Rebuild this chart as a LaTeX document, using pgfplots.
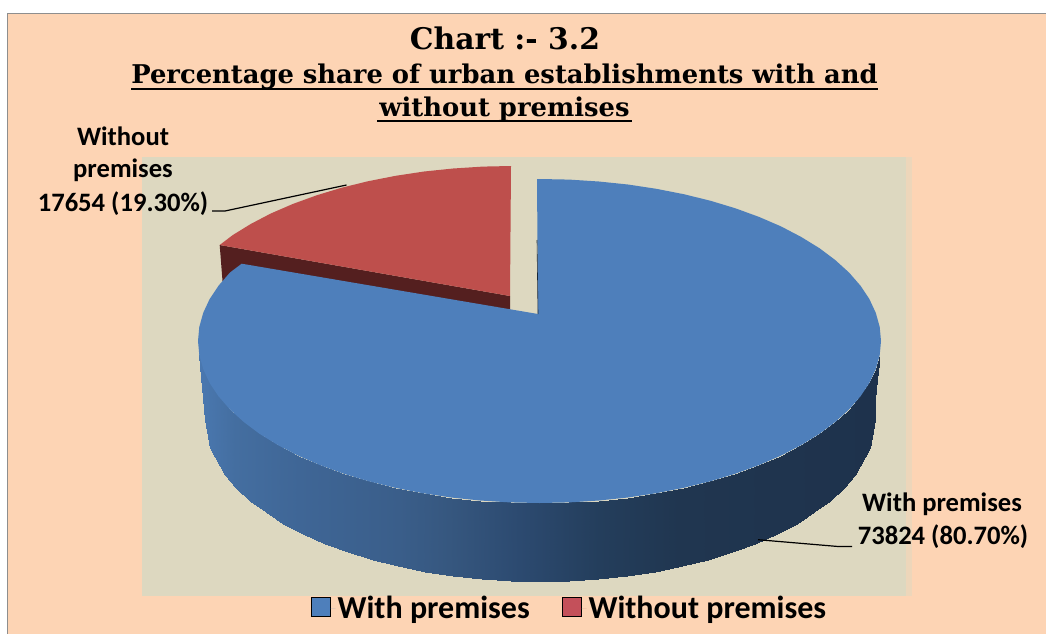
\documentclass[border=0pt]{standalone}
\usepackage{fontspec}
\setmainfont{Carlito}
\newfontfamily\titlefont{DejaVu Serif}
\usepackage{pgfplots}
\usepackage{pgfplotstable}
\pgfplotsset{compat=1.18}

\definecolor{pagepeach}{HTML}{FDD4B4}
\definecolor{plotbeige}{HTML}{DDD8C0}
\definecolor{frameline}{HTML}{8E8E8E}
\definecolor{pieblue}{HTML}{4E7FBB}
\definecolor{piered}{HTML}{BE4F4C}
\definecolor{reddark}{HTML}{541F1F}
\definecolor{legendred}{HTML}{C4505A}

% blue slice wall, two lines per column of the rim: top edge, bottom edge
\pgfplotstableread{
x y
879.7 355.1
873.7 405.4
875.8 369.1
875 419.5
869.4 382.9
869.9 447.6
860.4 396.4
854.8 474.9
849 409.5
843.6 488
835.2 422
830.1 500.5
819.3 433.9
814.4 512.4
801.1 445.1
796.6 523.6
781 455.6
776.9 534.1
759 465.1
755.3 543.6
735.4 473.7
732.2 552.2
710.3 481.3
707.5 559.8
683.8 487.8
681.6 566.3
656.3 493.2
654.6 571.7
627.9 497.5
626.7 576
598.8 500.5
598.2 579
569.3 502.4
569.2 580.9
539.5 503
540 581.5
509.7 502.4
510.8 580.9
480.2 500.5
481.8 579
451.1 497.5
453.3 576
422.7 493.2
425.4 571.7
395.2 487.8
398.4 566.3
368.7 481.3
372.5 559.8
343.6 473.7
347.8 552.2
320 465.1
324.7 543.6
298 455.6
303.1 534.1
277.9 445.1
283.4 523.6
259.7 433.9
265.6 512.4
243.8 422
249.9 500.5
230 409.5
236.4 488
218.6 396.4
225.2 474.9
209.6 382.9
210.1 447.6
203.2 369.1
205 419.5
199.3 355.1
206.3 405.4
}\walltable

\begin{document}
\begin{tikzpicture}
\begin{axis}[
  scale only axis,
  width=1046pt, height=634pt,
  xmin=0, xmax=1046, ymin=0, ymax=634,
  y dir=reverse,
  axis lines=none,
  colormap={sidegrad}{rgb255(0pt)=(74,120,176); rgb255(36pt)=(68,110,160);
    rgb255(100pt)=(63,102,150); rgb255(200pt)=(58,94,138); rgb255(250pt)=(54,87,127);
    rgb255(320pt)=(44,74,112); rgb255(400pt)=(36,62,92); rgb255(480pt)=(32,54,80);
    rgb255(681pt)=(30,50,76)},
  legend image code/.code={\draw[#1] (0pt,-8pt) rectangle (18.5pt,10.5pt); \path (0pt,0pt) -- (24pt,0pt);},
  legend style={at={(axis cs:569.8,608)}, anchor=center, draw=none, fill=none,
    legend columns=2, font=\fontsize{32}{34}\selectfont\bfseries,
    /tikz/every even column/.append style={column sep=30.5pt}},
]
% page and plot area
\addplot[fill=white, draw=none, forget plot] coordinates {(0,0) (1046,0) (1046,634) (0,634)} --cycle;
\addplot[fill=pagepeach, draw=frameline, line width=1.2pt, forget plot] coordinates {(7.5,13.5) (1050,13.5) (1050,640) (7.5,640)} --cycle;
\addplot[fill=plotbeige!50!pagepeach, draw=none, forget plot] coordinates {(142,157) (912,157) (912,596) (142,596)} --cycle;
\addplot[fill=plotbeige, draw=none, forget plot] coordinates {(142,157) (906,157) (906,596) (142,596)} --cycle;

% red slice, side then top
\addplot[fill=reddark, draw=none, forget plot] coordinates {(219.7,245) (510,296) (510,311) (300,280) (222.5,281)} --cycle;
\addplot[fill=piered, draw=none, forget plot] coordinates {
  (511,166) (482.7,166.6) (453.2,168.5) (424.1,171.5) (395.7,175.8) (368.2,181.2)
  (341.7,187.7) (316.6,195.3) (293,203.9) (271,213.4) (250.9,223.9) (232.7,235.1)
  (219.7,245) (510,296)} --cycle;

% wall drawn twice so the seams between the cells close up
\addplot[surf, shader=interp, mesh/cols=2, point meta=x, forget plot] table {\walltable};
\addplot[surf, shader=interp, mesh/cols=2, point meta=x, forget plot] table {\walltable};

% blue slice, top
\addplot[fill=pieblue, draw=none, forget plot] coordinates {
  (537,179) (539.5,179) (569.3,179.6) (598.8,181.5) (627.9,184.5) (656.3,188.8)
  (683.8,194.2) (710.3,200.7) (735.4,208.3) (759,216.9) (781,226.4) (801.1,236.9)
  (819.3,248.1) (835.2,260) (849,272.5) (860.4,285.6) (869.4,299.1) (875.8,312.9)
  (879.7,326.9) (881,341) (879.7,355.1) (875.8,369.1) (869.4,382.9) (860.4,396.4)
  (849,409.5) (835.2,422) (819.3,433.9) (801.1,445.1) (781,455.6) (759,465.1)
  (735.4,473.7) (710.3,481.3) (683.8,487.8) (656.3,493.2) (627.9,497.5) (598.8,500.5)
  (569.3,502.4) (539.5,503) (509.7,502.4) (480.2,500.5) (451.1,497.5) (422.7,493.2)
  (395.2,487.8) (368.7,481.3) (343.6,473.7) (320,465.1) (298,455.6) (277.9,445.1)
  (259.7,433.9) (243.8,422) (230,409.5) (218.6,396.4) (209.6,382.9) (203.2,369.1)
  (199.3,355.1) (198,341) (199.3,326.9) (203.2,312.9) (209.6,299.1) (218.6,285.6)
  (230,272.5) (241.7,263.7) (538,314)} --cycle;
\addplot[color=black!70!pieblue, line width=0.6pt, forget plot] coordinates {(537,240) (538,314)};

% leader lines
\addplot[black, line width=1.2pt, forget plot] coordinates {(212,211) (225,211) (346.5,185)};
\addplot[black, line width=1.2pt, forget plot] coordinates {(758,539.7) (837,546.4) (852,546.4)};

% legend
\addlegendimage{fill=pieblue, draw=none}
\addlegendentry{With premises}
\addlegendimage{fill=legendred, draw=none}
\addlegendentry{Without premises}

% title
\node[anchor=base] at (axis cs:505,49) {\titlefont\bfseries\fontsize{29.8}{32}\selectfont Chart :- 3.2};
\node[anchor=base] at (axis cs:504.5,84) {\titlefont\bfseries\fontsize{25.8}{28}\selectfont Percentage share of urban establishments with and};
\node[anchor=base] at (axis cs:504.5,116.5) {\titlefont\bfseries\fontsize{25.8}{28}\selectfont without premises};
\draw[black, line width=2pt] (axis cs:131,88.5) -- (axis cs:878,88.5);
\draw[black, line width=2pt] (axis cs:377,120.5) -- (axis cs:632,120.5);

% data labels
\node[anchor=base] at (axis cs:123,145) {\bfseries\fontsize{26.6}{28}\selectfont Without};
\node[anchor=base] at (axis cs:123,177) {\bfseries\fontsize{26.6}{28}\selectfont premises};
\node[anchor=base] at (axis cs:123,211) {\bfseries\fontsize{26.6}{28}\selectfont 17654 (19.30\%)};
\node[anchor=base] at (axis cs:942,511) {\bfseries\fontsize{26.6}{28}\selectfont With premises};
\node[anchor=base] at (axis cs:943,544) {\bfseries\fontsize{26.6}{28}\selectfont 73824 (80.70\%)};
\end{axis}
\end{tikzpicture}
\end{document}
